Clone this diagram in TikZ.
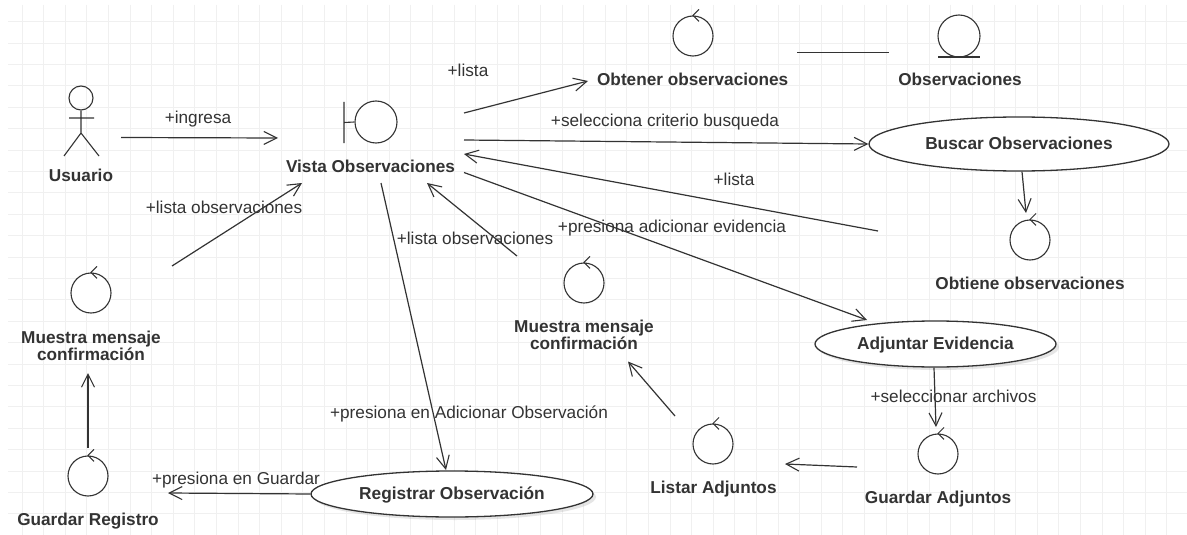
\documentclass[tikz,border=0pt]{standalone}
\usepackage{fontspec}
\setmainfont{Liberation Sans}
\usetikzlibrary{arrows.meta,calc,shapes.geometric,shadows}
\definecolor{ink}{HTML}{333333}
\definecolor{gridc}{HTML}{F0F0F0}
\tikzset{
  lbl/.style={font=\fontsize{17.2}{20}\selectfont, text=ink, inner sep=0pt, text height=14pt, text depth=2pt},
  nmtwo/.style={font=\fontsize{17.2}{17}\selectfont\bfseries, text=ink, inner sep=0pt, align=center},
  nm/.style={nmtwo, text height=14pt, text depth=2pt},
  iconc/.style={circle, draw=ink, line width=1.1pt, minimum size=40pt, inner sep=0pt, fill=white},
  uc/.style={ellipse, draw=ink, line width=1.3pt, fill=white, inner sep=0pt, font=\fontsize{17.3}{18}\selectfont\bfseries, text=ink, text height=13pt, text depth=3pt},
  ucs/.style={uc, drop shadow={shadow xshift=3pt, shadow yshift=-3pt, opacity=.2}},
  arr/.style={draw=ink, line width=1.2pt, -{Straight Barb[length=13pt,width=13pt,line width=1.1pt]}},
  lin/.style={draw=ink, line width=1.2pt},
}
\newcommand{\ctrlmark}[1]{\draw[ink,line width=1pt] ($(#1.north)+(6,-6)$) -- ($(#1.north)+(0,0)$) -- ($(#1.north)+(6,6)$);}
\begin{document}
\begin{tikzpicture}[x=1pt,y=-1pt]
\useasboundingbox (0,0) rectangle (1187,535);
\fill[white] (0,0) rectangle (1187,535);
\foreach \i in {0,...,54} {\draw[gridc,line width=.7pt] ({22+21.6*\i},5) -- ({22+21.6*\i},535);}
\foreach \i in {0,...,24} {\draw[gridc,line width=.7pt] (8,{21.5+21.4*\i}) -- (1187,{21.5+21.4*\i});}

% actor
\node[circle,draw=ink,line width=1.1pt,minimum size=24pt,inner sep=0pt] (head) at (81,98) {};
\coordinate (hip) at (81,133);
\coordinate (armL) at (69,118);
\coordinate (armR) at (94,118);
\coordinate (legL) at (64,156);
\coordinate (legR) at (99,156);
\draw[lin,line width=1.1pt] (head.south) -- (hip) (armL) -- (armR) (hip) -- (legL) (hip) -- (legR);
\node[nm] (usuario) at (81,175) {Usuario};

% boundary
\node[iconc,minimum size=42pt] (vistaI) at (376,122) {};
\coordinate (barT) at (344,102);
\coordinate (barB) at (344,143);
\draw[lin,line width=1.1pt] (barT) -- (barB) ($(barT)!.5!(barB)$) -- (vistaI.west);
\node[nm] (vista) at (370.5,166) {Vista Observaciones};

% controls
\node[iconc] (obtI) at (693,36) {}; \ctrlmark{obtI}
\node[nm] (obt) at (692.7,80) {Obtener observaciones};
\node[iconc,minimum size=42pt] (entI) at (959,36) {};
\coordinate (entL) at (938,57);
\coordinate (entR) at (980,57);
\draw[lin] (entL) -- (entR);
\node[nm] (ent) at (960,80) {Observaciones};
\node[uc,minimum width=300pt,minimum height=54pt] (buscar) at (1019,144) {Buscar Observaciones};
\node[iconc] (obtnI) at (1030,240) {}; \ctrlmark{obtnI}
\node[nm] (obtn) at (1030,283) {Obtiene observaciones};
\node[ucs,minimum width=241pt,minimum height=46pt] (adj) at (935.5,344) {Adjuntar Evidencia};
\node[iconc] (gaI) at (938,454) {}; \ctrlmark{gaI}
\node[nm] (ga) at (938,497) {Guardar Adjuntos};
\node[iconc] (laI) at (713,444) {}; \ctrlmark{laI}
\node[nm] (la) at (713.5,487) {Listar Adjuntos};
\node[iconc] (m2I) at (584,283) {}; \ctrlmark{m2I}
\node[nmtwo] (m2) at (584,334.5) {Muestra mensaje\\confirmación};
\node[iconc] (m1I) at (91,293) {}; \ctrlmark{m1I}
\node[nmtwo] (m1) at (91,345.5) {Muestra mensaje\\confirmación};
\node[iconc] (grI) at (88,476) {}; \ctrlmark{grI}
\node[nm] (gr) at (88,519) {Guardar Registro};
\node[ucs,minimum width=282pt,minimum height=46pt] (reg) at (452,494) {Registrar Observación};

% connectors
\draw[arr] ($(usuario)+(40,-37.5)$) -- ($(vista)+(-92.5,-28)$);
\draw[arr] ($(vista)+(93.5,-53)$) -- ($(obt)+(-104.7,1)$);
\draw[lin] ($(obtI)+(104,16.7)$) -- ($(entI)+(-70,16.7)$);
\draw[arr] ($(vista)+(93.5,-26)$) -- (buscar.west);
\draw[arr] ($(buscar.south)+(3,0)$) -- ($(obtnI)+(-4,-27)$);
\draw[arr] ($(buscar)+(-141,87)$) -- ($(vista)+(93.5,-12)$);
\draw[arr] ($(vista)+(93.5,6.5)$) -- ($(adj)+(-68.5,-24)$);
\draw[arr] ($(adj.south)+(-1.5,0)$) -- ($(gaI)+(-2,-27)$);
\draw[arr] ($(gaI)+(-81,13)$) -- ($(laI)+(72,20)$);
\draw[arr] ($(laI)+(-38,-28)$) -- ($(m2)+(44,27)$);
\draw[arr] ($(m2I)+(-67,-27)$) -- ($(vista)+(56.5,17)$);
\draw[arr] ($(vista)+(10.5,17)$) -- ($(reg)+(-6,-24)$);
\draw[arr] (reg.west) -- ($(grI)+(80,17)$);
\draw[arr] ($(grI)+(0,-28)$) -- ($(m1)+(-3,27.5)$);
\draw[arr] ($(m1I)+(81,-27)$) -- ($(vista)+(-68.5,17)$);

% labels
\node[lbl] (l1) at (198,117) {+ingresa};
\node[lbl] (l2) at (224,207) {+lista observaciones};
\node[lbl] (l3) at (468,71) {+lista};
\node[lbl] (l4) at (665,121) {+selecciona criterio busqueda};
\node[lbl] (l5) at (734,179) {+lista};
\node[lbl] (l6) at (672,226) {+presiona adicionar evidencia};
\node[lbl] (l7) at (475,238) {+lista observaciones};
\node[lbl] (l8) at (953.5,396) {+seleccionar archivos};
\node[lbl] (l9) at (469,412) {+presiona en Adicionar Observación};
\node[lbl] (l10) at (236,478) {+presiona en Guardar};
\end{tikzpicture}
\end{document}
